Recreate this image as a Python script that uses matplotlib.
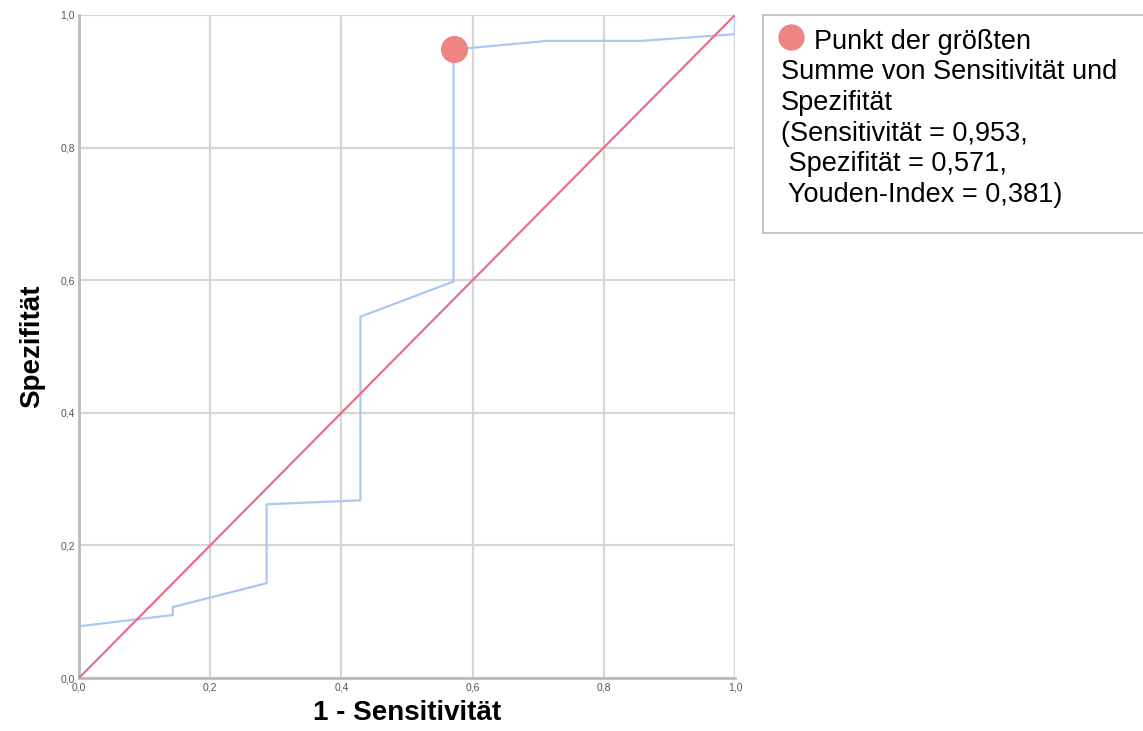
import numpy as np
import matplotlib.pyplot as plt
from matplotlib.lines import Line2D
from matplotlib.patches import Rectangle

plt.rcParams['font.family'] = ['Liberation Sans', 'DejaVu Sans']

# ROC curve points (x = 1 - Sensitivität, y = Spezifität)
roc_x = [0.0, 0.0, 0.143, 0.143, 0.286, 0.286, 0.429, 0.429, 0.571, 0.571, 0.714, 0.857, 1.0, 1.0]
roc_y = [0.0, 0.078, 0.095, 0.107, 0.143, 0.262, 0.268, 0.545, 0.598, 0.948, 0.961, 0.961, 0.971, 1.0]
ref_x = [0.0, 1.0]
ref_y = [0.0, 1.0]
best_x = [0.571]
best_y = [0.948]
ticks = [0.0, 0.2, 0.4, 0.6, 0.8, 1.0]
tick_labels = ['0,0', '0,2', '0,4', '0,6', '0,8', '1,0']
legend_lines = ['Punkt der größten',
                'Summe von Sensitivität und',
                'Spezifität',
                '(Sensitivität = 0,953,',
                ' Spezifität = 0,571,',
                ' Youden-Index = 0,381)']

W, H = 1143, 731
fig = plt.figure(figsize=(W / 100, H / 100), dpi=100)
ax = fig.add_axes([79 / W, 1 - 678 / H, 656 / W, 663 / H])

grid_c = '#d6d6d6'
for t in ticks:
    ax.axvline(t, color=grid_c, lw=1.6, zorder=0)
    ax.axhline(t, color=grid_c, lw=1.6, zorder=0)

ax.plot(roc_x, roc_y, color='#a9c9f2', lw=1.6, zorder=2)
ax.plot(ref_x, ref_y, color='#e8708a', lw=1.6, zorder=3)
ax.scatter(best_x, best_y, s=380, color='#ef8580', zorder=4, linewidths=0)

ax.set_xlim(0, 1)
ax.set_ylim(0, 1)
ax.set_xticks(ticks)
ax.set_xticklabels(tick_labels)
ax.set_yticks(ticks)
ax.set_yticklabels(tick_labels)
ax.tick_params(labelsize=7.5, colors='#555555', length=0, pad=3)
for side in ['top', 'right']:
    ax.spines[side].set_visible(False)
for side in ['left', 'bottom']:
    ax.spines[side].set_color('#bbbbbb')
    ax.spines[side].set_linewidth(2)

ax.set_xlabel('1 - Sensitivität', fontsize=20, fontweight='bold', labelpad=6)
ax.set_ylabel('Spezifität', fontsize=20, fontweight='bold', labelpad=11)

# legend box
fig.patches.append(Rectangle((763 / W, 1 - 233 / H), 390 / W, 218 / H,
                             transform=fig.transFigure, facecolor='white',
                             edgecolor='#bbbbbb', lw=1.2))
fig.lines.append(Line2D([791 / W], [1 - 37 / H], marker='o', markersize=19,
                        color='#ef8580', markeredgewidth=0, transform=fig.transFigure))
fig.text(814 / W, 1 - 42 / H, legend_lines[0], fontsize=19.5, va='center')
for i, line in enumerate(legend_lines[1:]):
    fig.text(781 / W, 1 - (72 + 30.8 * i) / H, line, fontsize=19.5, va='center')

fig.savefig('out.png', dpi=100)
